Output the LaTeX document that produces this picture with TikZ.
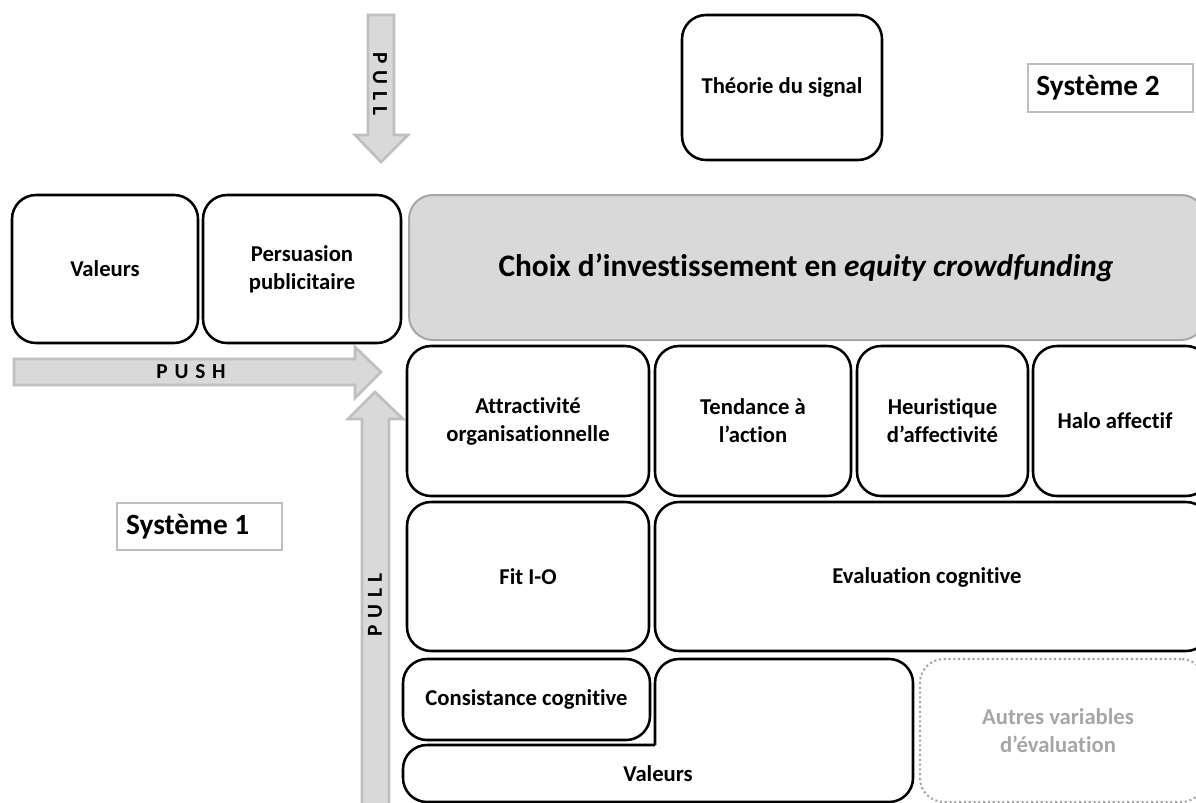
\documentclass[tikz,border=0pt]{standalone}
\usepackage{fontspec}
\setmainfont[Ligatures=NoCommon]{Carlito}
\newfontfamily\spacedfont[LetterSpace=32,Ligatures=NoCommon]{Carlito}
\usetikzlibrary{fit}
\definecolor{lgray}{HTML}{D9D9D9}
\definecolor{mgray}{HTML}{A6A6A6}
\definecolor{sgray}{HTML}{BFBFBF}
\begin{document}
\begin{tikzpicture}[x=0.75pt,y=-0.75pt,
  box/.style={draw=black, line width=1.9pt, rounded corners=18pt, fill=white, inner sep=0pt},
  boxline/.style={draw=black, line width=1.9pt, line cap=square},
  lbl/.style={font=\fontsize{17}{21}\selectfont\bfseries, align=center, inner sep=0pt},
  maingray/.style={draw=mgray, line width=1.5pt, fill=lgray, rounded corners=18pt, inner sep=0pt},
  other/.style={draw=mgray, line width=1.6pt, dotted, rounded corners=18pt, inner sep=0pt},
  syslabel/.style={draw=sgray, line width=0.8pt, inner sep=0pt},
  sysfont/.style={font=\fontsize{22}{26}\selectfont\bfseries, inner sep=0pt, anchor=west},
  arrowshape/.style={draw=sgray, line width=2pt, fill=lgray, line join=miter},
  arrowtext/.style={font=\fontsize{16}{18}\spacedfont\bfseries, inner sep=0pt}
]
\useasboundingbox (0,0) rectangle (1196,803);

% arrows
\draw[arrowshape] (368,15) -- (394,15) -- (394,135) -- (408,135) -- (381,162) -- (355,135) -- (368,135) -- cycle;
\node[arrowtext, rotate=-90] (pulltop) at (380,84) {PULL};

\draw[arrowshape] (14,359) -- (355,359) -- (355,347) -- (381,372) -- (355,398) -- (355,385) -- (14,385) -- cycle;
\node[arrowtext] (push) at (191,372) {PUSH};

\draw[arrowshape] (362,810) -- (362,419) -- (348,419) -- (375,392) -- (403,419) -- (389,419) -- (389,810) -- cycle;
\node[arrowtext, rotate=90] (pullbot) at (375,605) {PULL};

% top row
\node[box, fit={(12,195)(198,343)}] (valeurs1) {};
\node[lbl] at (valeurs1.center) {Valeurs};
\node[box, fit={(203,195)(401,343)}] (persu) {};
\node[lbl] at (persu.center) {Persuasion\\publicitaire};
\node[maingray, fit={(409,195)(1205,340)}] (choix) {};
\node[font=\fontsize{23.5}{28}\selectfont\bfseries, inner sep=0pt] at (806,268) {Choix d’investissement en \textit{equity crowdfunding}};

\node[box, fit={(682,15)(882,160)}] (signal) {};
\node[lbl] at (signal.center) {Théorie du signal};
\node[syslabel, fit={(1028,64)(1193,112)}] (sys2) {};
\node[sysfont] at ([xshift=6.5pt]sys2.west) {Système 2};
\node[syslabel, fit={(117,503)(282,550)}] (sys1) {};
\node[sysfont] at ([xshift=7pt]sys1.west) {Système 1};

% row 2
\node[box, fit={(407,346)(649,496)}] (attr) {};
\node[lbl] at (attr.center) {Attractivité\\organisationnelle};
\node[box, fit={(655,346)(851,496)}] (tend) {};
\node[lbl] at (tend.center) {Tendance à\\l’action};
\node[box, fit={(857,346)(1028,496)}] (heur) {};
\node[lbl] at (heur.center) {Heuristique\\d’affectivité};
\node[box, fit={(1033,346)(1210,496)}] (halo) {};
\node[lbl] at (1115,421) {Halo affectif};

% row 3
\node[box, fit={(407,502)(649,651)}] (fit) {};
\node[lbl] at (fit.center) {Fit I-O};
\node[box, fit={(655,502)(1210,651)}] (eval) {};
\node[lbl] at (927,577) {Evaluation cognitive};

% row 4
\node[box, fit={(403,659)(650,740)}] (consist) {};
\node[lbl] at (consist.center) {Consistance cognitive};
\draw[boxline, rounded corners=18pt] (655,745) -- (655,659) -- (913,659) -- (913,802) -- (403,802) -- (403,745) -- (655,745);
\node[lbl] (valeurs2) at (658,774) {Valeurs};

\node[other, fit={(920,659)(1205,802)}] (autres) {};
\node[lbl, text=mgray] at (1058,731) {Autres variables\\d’évaluation};
\end{tikzpicture}
\end{document}
